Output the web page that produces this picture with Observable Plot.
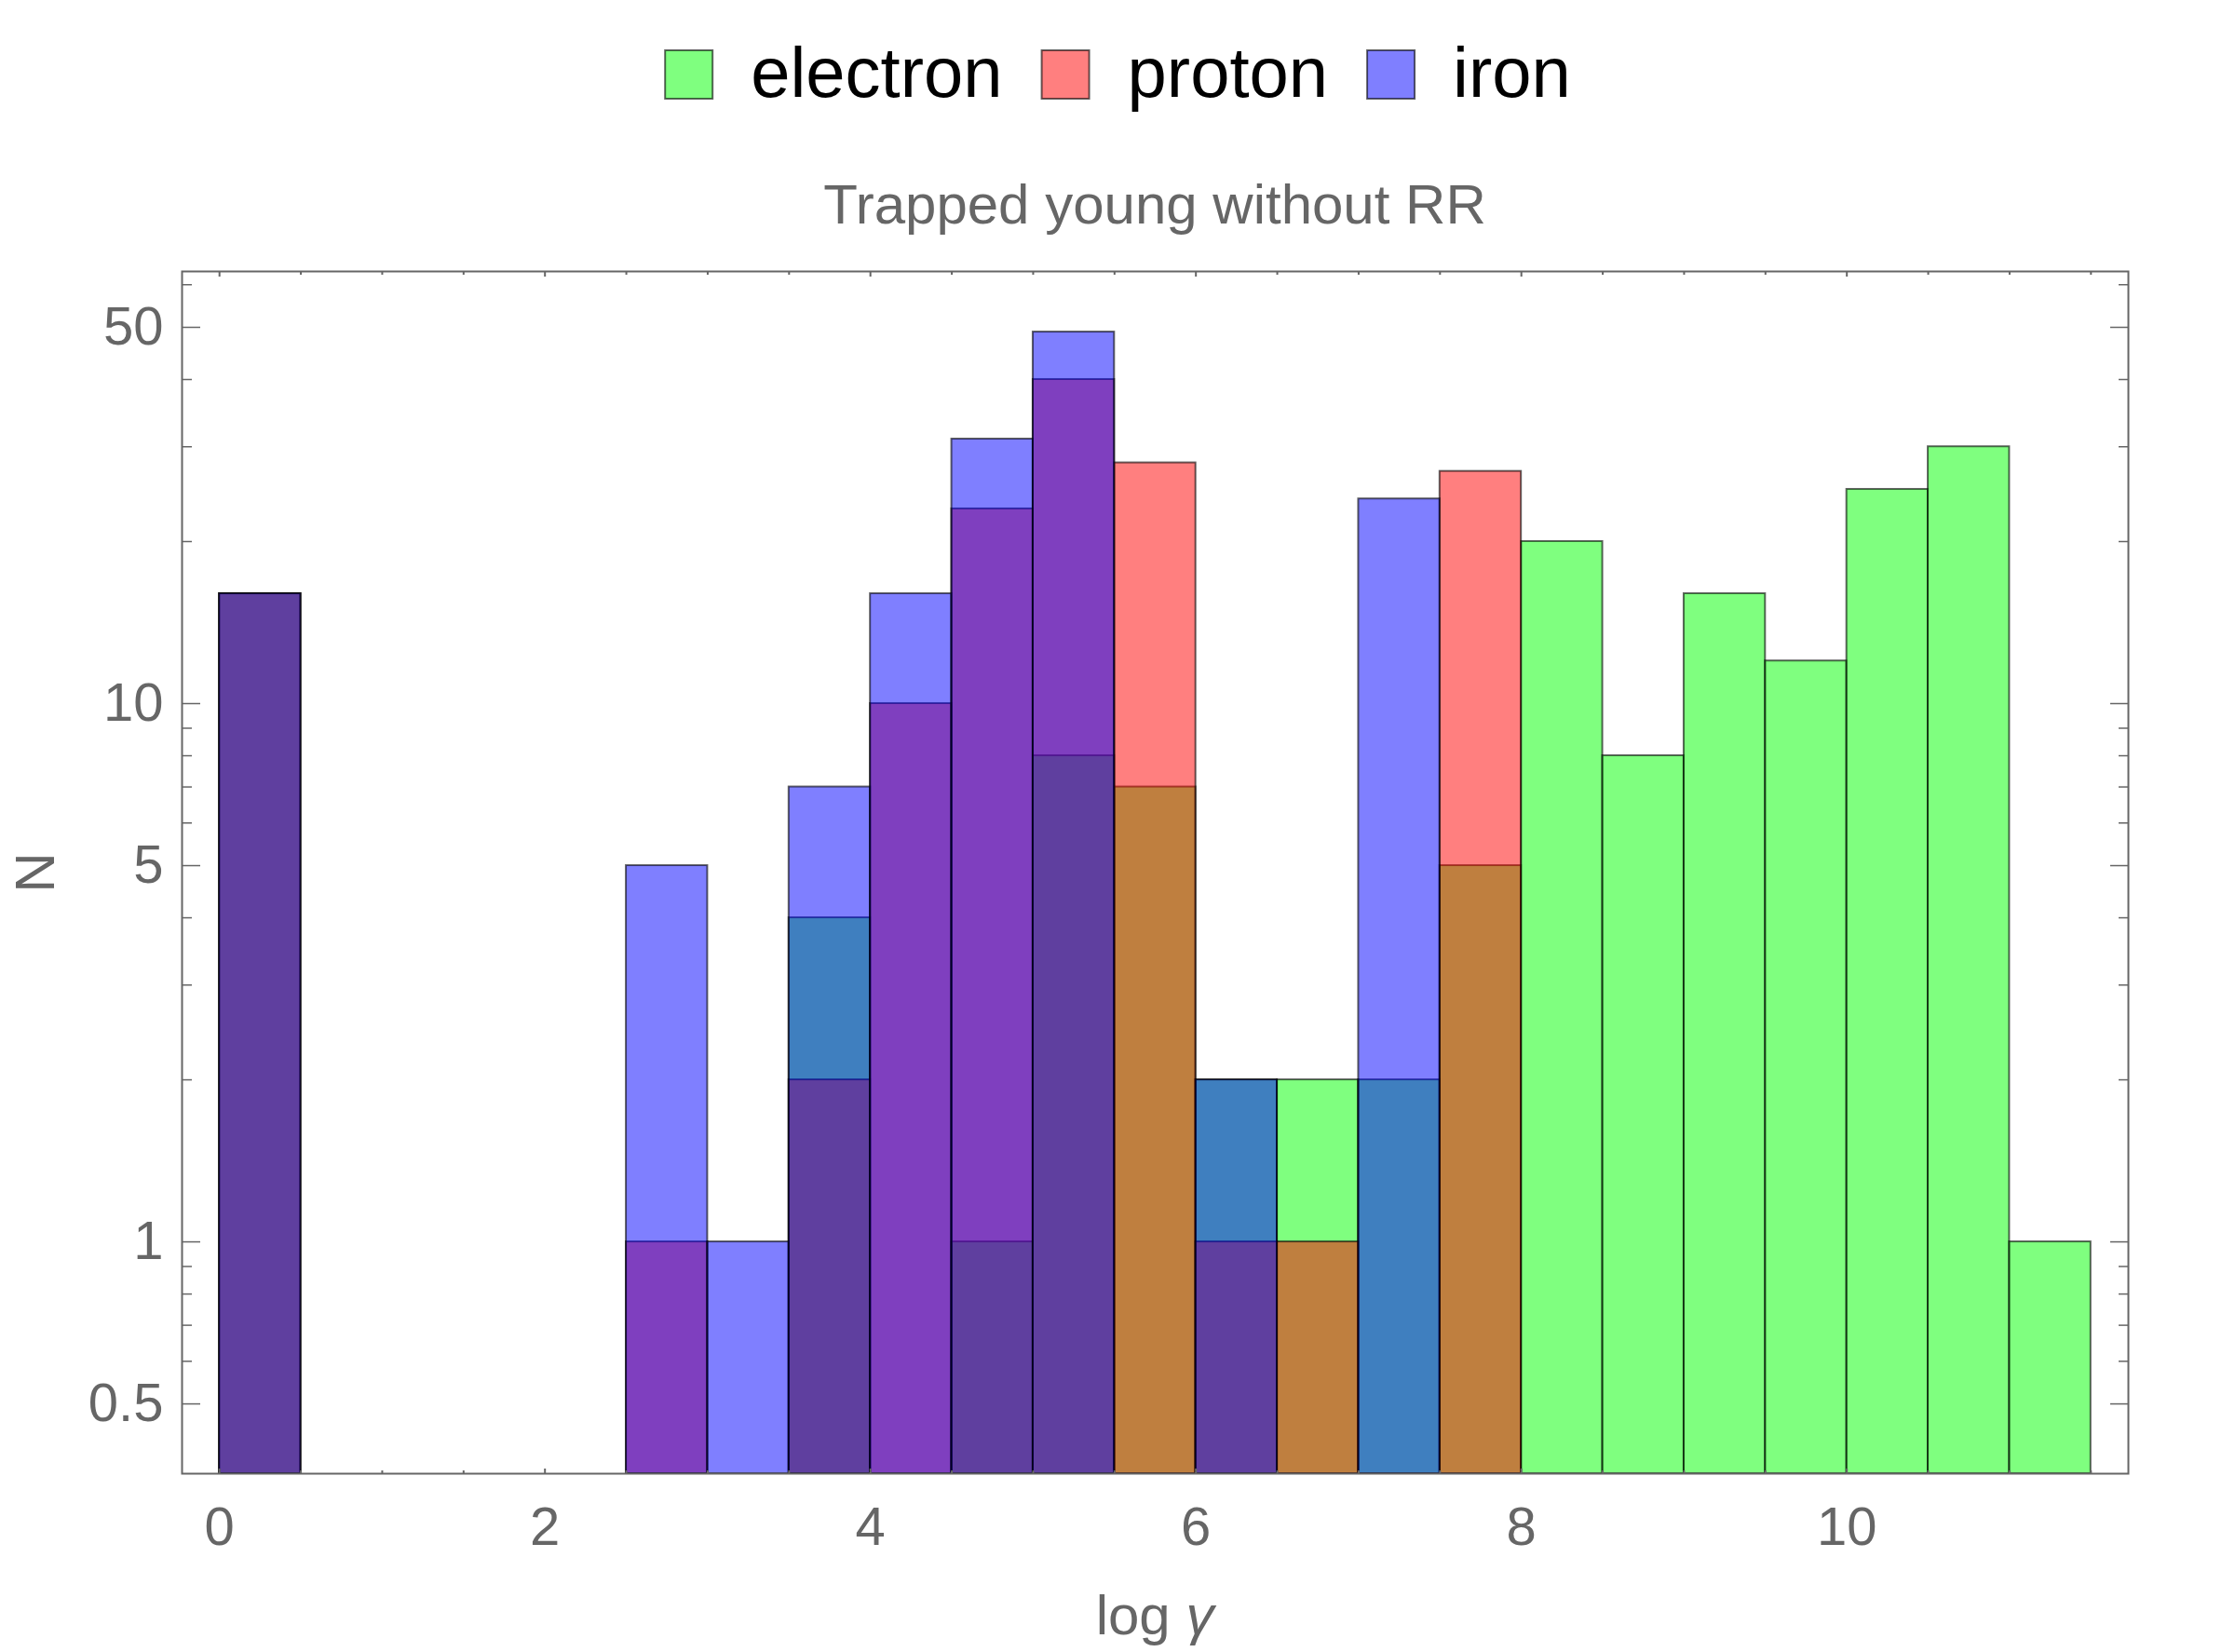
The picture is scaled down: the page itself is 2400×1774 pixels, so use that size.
<!DOCTYPE html>
<html><head><meta charset="utf-8">
<script src="https://cdn.jsdelivr.net/npm/d3@7"></script>
<script src="https://cdn.jsdelivr.net/npm/@observablehq/plot@0.6"></script>
<style>
html,body{margin:0;padding:0;background:#fff;}
#wrap{position:relative;width:2400px;height:1774px;overflow:hidden;background:#fff;}
#wrap > svg{position:absolute;left:0;top:0;}
</style></head><body><div id="wrap"></div>
<script>
// ---- data ----
const binStart = [0,0.5,1,1.5,2,2.5,3,3.5,4,4.5,5,5.5,6,6.5,7,7.5,8,8.5,9,9.5,10,10.5,11];
const binWidth = 0.5;
const electron = [16,0,0,0,0,0,0,4,0,1,8,7,2,2,2,5,20,8,16,12,25,30,1];
const proton   = [16,0,0,0,0,1,0,2,10,23,40,28,1,1,0,27,0,0,0,0,0,0,0];
const iron     = [16,0,0,0,0,5,1,7,16,31,49,0,2,0,24,0,0,0,0,0,0,0,0];
const seriesNames = ["electron","proton","iron"];
const seriesColors = ["#00ff00","#ff0000","#0000ff"];
const yMajorTicks = [0.5,1,5,10,50];
const yMinorTicks = [0.6,0.7,0.8,0.9,2,3,4,6,7,8,9,20,30,40,60];
const xMajorTicks = [0,2,4,6,8,10];
const xMinorTicks = [0.5,1,1.5,2.5,3,3.5,4.5,5,5.5,6.5,7,7.5,8.5,9,9.5,10.5,11,11.5];
const titleText = "Trapped young without RR";
const xLabel = "log ";
const xLabelSymbol = "γ";
const yLabel = "N";
const xDomain = [-0.23, 11.73];
const yDomain = [0.371, 63.5];

const FONT = "'Liberation Sans', Arial, Helvetica, sans-serif";
const GRAY = "#666666";

function rows(values){
  return binStart.map((x0,i)=>({x0, x1: x0 + binWidth, n: values[i]})).filter(d => d.n > 0);
}
const allSeries = [electron, proton, iron];

const barMarks = allSeries.map((vals, i) => Plot.rectY(rows(vals), {
  x1: "x0", x2: "x1", y1: yDomain[0], y2: "n",
  fill: seriesColors[i], fillOpacity: 0.5,
  stroke: "#000", strokeOpacity: 0.6, strokeWidth: 2
}));

const blank = () => "";

const chart = Plot.plot({
  width: 2400,
  height: 1774,
  marginLeft: 195,
  marginRight: 115,
  marginTop: 291,
  marginBottom: 192,
  style: {fontFamily: FONT, fontSize: "58px", color: GRAY, background: "transparent"},
  x: {domain: xDomain, label: null},
  y: {type: "log", domain: yDomain, label: null},
  marks: [
    ...barMarks,
    Plot.frame({stroke: GRAY, strokeWidth: 2}),
    Plot.axisY(yMajorTicks, {anchor: "left", tickSize: -20, tickPadding: 40, fontSize: 58, tickFormat: d => String(d), label: null, strokeWidth: 1.5}),
    Plot.axisY(yMinorTicks, {anchor: "left", tickSize: -11, tickFormat: blank, label: null, strokeWidth: 1.5}),
    Plot.axisY(yMajorTicks, {anchor: "right", tickSize: -20, tickFormat: blank, label: null, strokeWidth: 1.5}),
    Plot.axisY(yMinorTicks, {anchor: "right", tickSize: -11, tickFormat: blank, label: null, strokeWidth: 1.5}),
    Plot.axisX(xMajorTicks, {anchor: "bottom", tickSize: -5, tickPadding: 40, fontSize: 58, tickFormat: d => String(d), label: null, strokeWidth: 2}),
    Plot.axisX(xMinorTicks, {anchor: "bottom", tickSize: -3, tickFormat: blank, label: null, strokeWidth: 2}),
    Plot.axisX(xMajorTicks, {anchor: "top", tickSize: -5, tickFormat: blank, label: null, strokeWidth: 2}),
    Plot.axisX(xMinorTicks, {anchor: "top", tickSize: -3, tickFormat: blank, label: null, strokeWidth: 2})
  ]
});
const wrap = document.getElementById("wrap");
wrap.appendChild(chart);

// ---- overlay: legend, title, axis labels ----
const ov = d3.select(wrap).append("svg")
  .attr("width", 2400).attr("height", 1774)
  .style("font-family", FONT);

// legend
const swW = 53, swH = 54, gapSwText = 40, gapItem = 41, legendBaseline = 104, legendTop = 53;
const lg = ov.append("g");
let cx = 0;
seriesNames.forEach((name, i) => {
  lg.append("rect").attr("x", cx + 1).attr("y", legendTop + 1).attr("width", swW - 2).attr("height", swH - 2)
    .attr("fill", seriesColors[i]).attr("fill-opacity", 0.5)
    .attr("stroke", "#000").attr("stroke-opacity", 0.6).attr("stroke-width", 2);
  cx += swW + gapSwText;
  const t = lg.append("text").attr("x", cx).attr("y", legendBaseline)
    .attr("font-size", 76).attr("fill", "#000").text(name);
  cx += t.node().getComputedTextLength();
  if (i < seriesNames.length - 1) cx += gapItem;
});
lg.attr("transform", `translate(${1200 - cx / 2},0)`);

// title
ov.append("text").attr("x", 1240).attr("y", 240).attr("text-anchor", "middle")
  .attr("font-size", 60).attr("fill", GRAY).text(titleText);

// x label
const xl = ov.append("text").attr("x", 1240).attr("y", 1755).attr("text-anchor", "middle")
  .attr("font-size", 60).attr("fill", GRAY);
xl.append("tspan").text(xLabel);
xl.append("tspan").attr("font-style", "italic").text(xLabelSymbol);

// y label
ov.append("text").attr("transform", "translate(58,937) rotate(-90)").attr("text-anchor", "middle")
  .attr("font-size", 60).attr("fill", GRAY).text(yLabel);
</script>
</body></html>
